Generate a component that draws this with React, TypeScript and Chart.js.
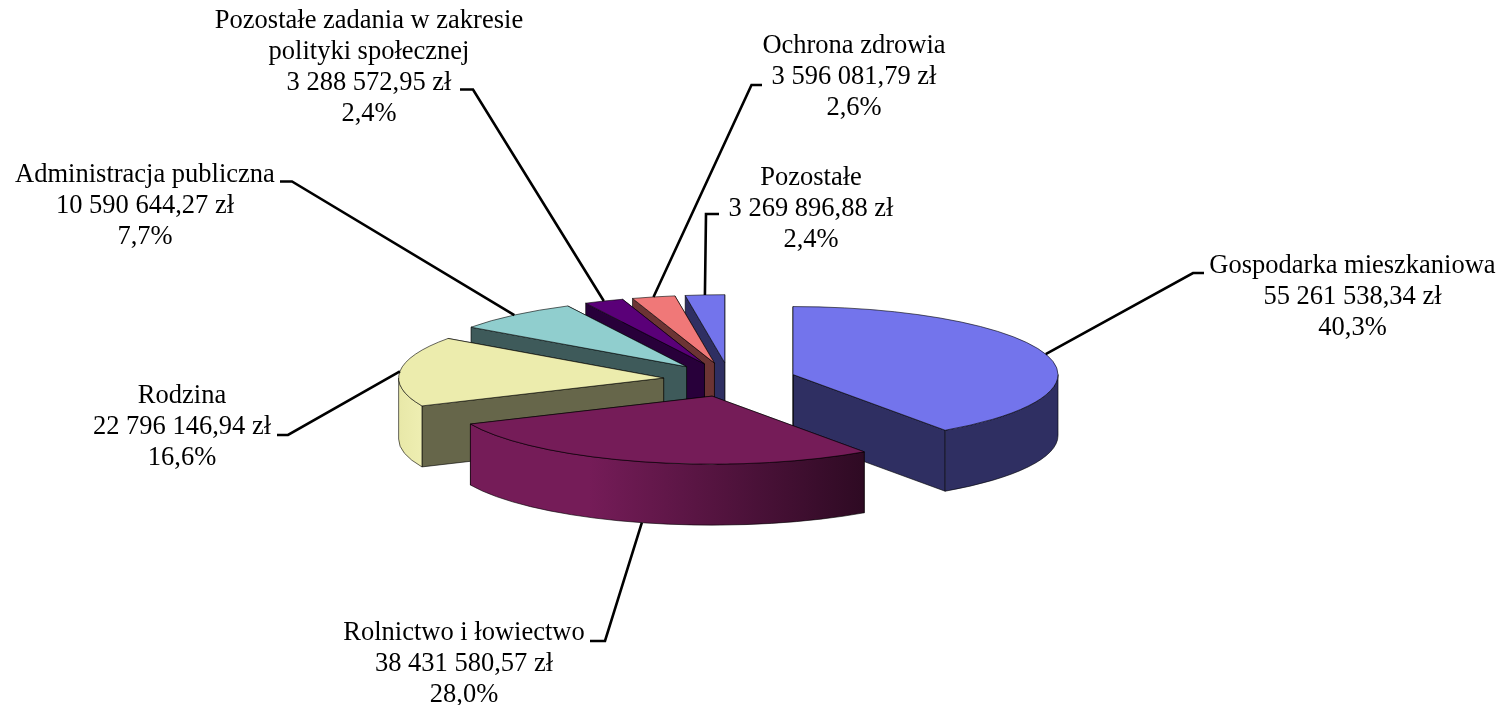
import React, { useEffect, useRef } from "react";
import { Chart, registerables } from "chart.js";

Chart.register(...registerables);

const categories = [
  "Gospodarka mieszkaniowa",
  "Rolnictwo i łowiectwo",
  "Rodzina",
  "Administracja publiczna",
  "Pozostałe zadania w zakresie polityki społecznej",
  "Ochrona zdrowia",
  "Pozostałe",
];
const amounts = [55261538.34, 38431580.57, 22796146.94, 10590644.27, 3288572.95, 3596081.79, 3269896.88];
const amountLabels = [
  "55 261 538,34 zł",
  "38 431 580,57 zł",
  "22 796 146,94 zł",
  "10 590 644,27 zł",
  "3 288 572,95 zł",
  "3 596 081,79 zł",
  "3 269 896,88 zł",
];
const shareLabels = ["40,3%", "28,0%", "16,6%", "7,7%", "2,4%", "2,6%", "2,4%"];

// Styling per slice
const topColors = ["#7374EC", "#751C58", "#ECECAD", "#90CECE", "#5A0078", "#F07878", "#7374EC"];
const faceColors = ["#2F2F62", "#751C58", "#66664A", "#3E5A5A", "#28003A", "#6C3434", "#2F2F62"];
const rimLeft = ["#2F2F62", "#751C58", "#E8E8A8", "#3E5A5A", "#28003A", "#6C3434", "#2F2F62"];
const rimRight = ["#2F2F62", "#2E0A23", "#EEEEB2", "#3E5A5A", "#28003A", "#6C3434", "#2F2F62"];
const cutFaceColors = ["#2F2F62", "#2E0A23", "#66664A", "#3E5A5A", "#28003A", "#6C3434", "#2F2F62"];

// Label layout: wrapped lines, centre x, first baseline, line pitch, and leader elbow points
const labelLines = [
  ["Gospodarka mieszkaniowa"],
  ["Rolnictwo i łowiectwo"],
  ["Rodzina"],
  ["Administracja publiczna"],
  ["Pozostałe zadania w zakresie", "polityki społecznej"],
  ["Ochrona zdrowia"],
  ["Pozostałe"],
];
const labelCentreX = [1352.5, 464, 182, 145, 369, 854, 811];
const labelTopY = [273, 640, 403, 182, 28, 53, 185];
const leaderKnee = [[1193, 273], [605, 641], [288, 435], [292, 181.5], [473, 89.5], [751.5, 85], [706, 214]];
const leaderEnd = [[1204, 273], [590, 641], [277, 435], [280, 181.5], [460, 89.5], [762, 85], [719, 214]];

const RADIUS = 265;
const SQUASH = 0.2566;
const DEPTH = 61;
const EXPLODE = 66.4;
const LINE_PITCH = 31;
const FONT = '26.5px "Liberation Serif"';

function depthPie(chart: any) {
  const { ctx } = chart;
  const arcs = chart.getDatasetMeta(0).data as any[];
  const shapes = arcs.map((arc, i) => {
    const mid = (arc.startAngle + arc.endAngle) / 2;
    return {
      i,
      mid,
      s: arc.startAngle,
      e: arc.endAngle,
      r: arc.outerRadius,
      ax: arc.x + Math.cos(mid) * EXPLODE,
      ay: arc.y + Math.sin(mid) * EXPLODE * SQUASH,
    };
  });
  const order = [...shapes].sort((a, b) => Math.sin(a.mid) - Math.sin(b.mid));
  ctx.save();
  ctx.lineJoin = "round";
  ctx.lineWidth = 0.8;
  ctx.strokeStyle = "rgba(0,0,0,0.75)";
  for (const p of order) {
    const ry = p.r * SQUASH;
    const pt = (t: number) => [p.ax + p.r * Math.cos(t), p.ay + ry * Math.sin(t)];
    // radial cut faces
    for (const [t, col] of [[p.e, cutFaceColors[p.i]], [p.s, faceColors[p.i]]] as [number, string][]) {
      const [x, y] = pt(t);
      ctx.beginPath();
      ctx.moveTo(p.ax, p.ay);
      ctx.lineTo(x, y);
      ctx.lineTo(x, y + DEPTH);
      ctx.lineTo(p.ax, p.ay + DEPTH);
      ctx.closePath();
      ctx.fillStyle = col;
      ctx.fill();
      ctx.stroke();
    }
    // curved rim (front half only)
    const a = Math.max(p.s, 0);
    const b = Math.min(p.e, Math.PI);
    if (b > a) {
      const [x0] = pt(b);
      const [x1] = pt(a);
      const g = ctx.createLinearGradient(x0, 0, x1, 0);
      g.addColorStop(0, rimLeft[p.i]);
      g.addColorStop(p.i === 1 ? 0.3 : 0, rimLeft[p.i]);
      g.addColorStop(1, rimRight[p.i]);
      ctx.beginPath();
      ctx.ellipse(p.ax, p.ay, p.r, ry, 0, a, b);
      ctx.ellipse(p.ax, p.ay + DEPTH, p.r, ry, 0, b, a, true);
      ctx.closePath();
      ctx.fillStyle = g;
      ctx.fill();
      ctx.stroke();
    }
    // top
    ctx.beginPath();
    ctx.moveTo(p.ax, p.ay);
    ctx.ellipse(p.ax, p.ay, p.r, ry, 0, p.s, p.e);
    ctx.closePath();
    ctx.fillStyle = topColors[p.i];
    ctx.fill();
    ctx.stroke();
  }
  ctx.restore();
}

function labels(chart: any) {
  const { ctx } = chart;
  const arcs = chart.getDatasetMeta(0).data as any[];
  ctx.save();
  arcs.forEach((arc, i) => {
    const mid = (arc.startAngle + arc.endAngle) / 2;
    const ax = arc.x + Math.cos(mid) * EXPLODE;
    const ay = arc.y + Math.sin(mid) * EXPLODE * SQUASH;
    const front = Math.sin(mid) > 0.5;
    const sx = ax + arc.outerRadius * Math.cos(mid);
    const sy = ay + arc.outerRadius * SQUASH * Math.sin(mid) + (front ? DEPTH : 0);
    ctx.beginPath();
    ctx.moveTo(sx, sy);
    ctx.lineTo(leaderKnee[i][0], leaderKnee[i][1]);
    ctx.lineTo(leaderEnd[i][0], leaderEnd[i][1]);
    ctx.strokeStyle = "#000";
    ctx.lineWidth = 2.6;
    ctx.stroke();

    ctx.font = FONT;
    ctx.fillStyle = "#000";
    ctx.textAlign = "center";
    ctx.textBaseline = "alphabetic";
    const lines = [...labelLines[i], amountLabels[i], shareLabels[i]];
    lines.forEach((t, n) => ctx.fillText(t, labelCentreX[i], labelTopY[i] + n * LINE_PITCH));
  });
  ctx.restore();
}

const pie3d = {
  id: "pie3d",
  beforeDatasetsDraw(chart: any) {
    depthPie(chart);
    return false;
  },
  afterDraw(chart: any) {
    labels(chart);
  },
};

export default function App() {
  const ref = useRef<HTMLCanvasElement>(null);
  useEffect(() => {
    document.body.style.margin = "0";
    document.body.style.background = "#fff";
    const chart = new Chart(ref.current!, {
      type: "pie",
      data: {
        labels: categories,
        datasets: [{ data: amounts, backgroundColor: topColors, borderWidth: 0 }],
      },
      options: {
        responsive: false,
        animation: false,
        radius: RADIUS,
        layout: { padding: { left: 0, right: 44.6, top: 54.4, bottom: 0 } },
        events: [],
        plugins: { legend: { display: false }, tooltip: { enabled: false } },
      } as any,
      plugins: [pie3d],
    });
    return () => chart.destroy();
  }, []);
  return <canvas ref={ref} width={1504} height={705} style={{ display: "block" }} />;
}
